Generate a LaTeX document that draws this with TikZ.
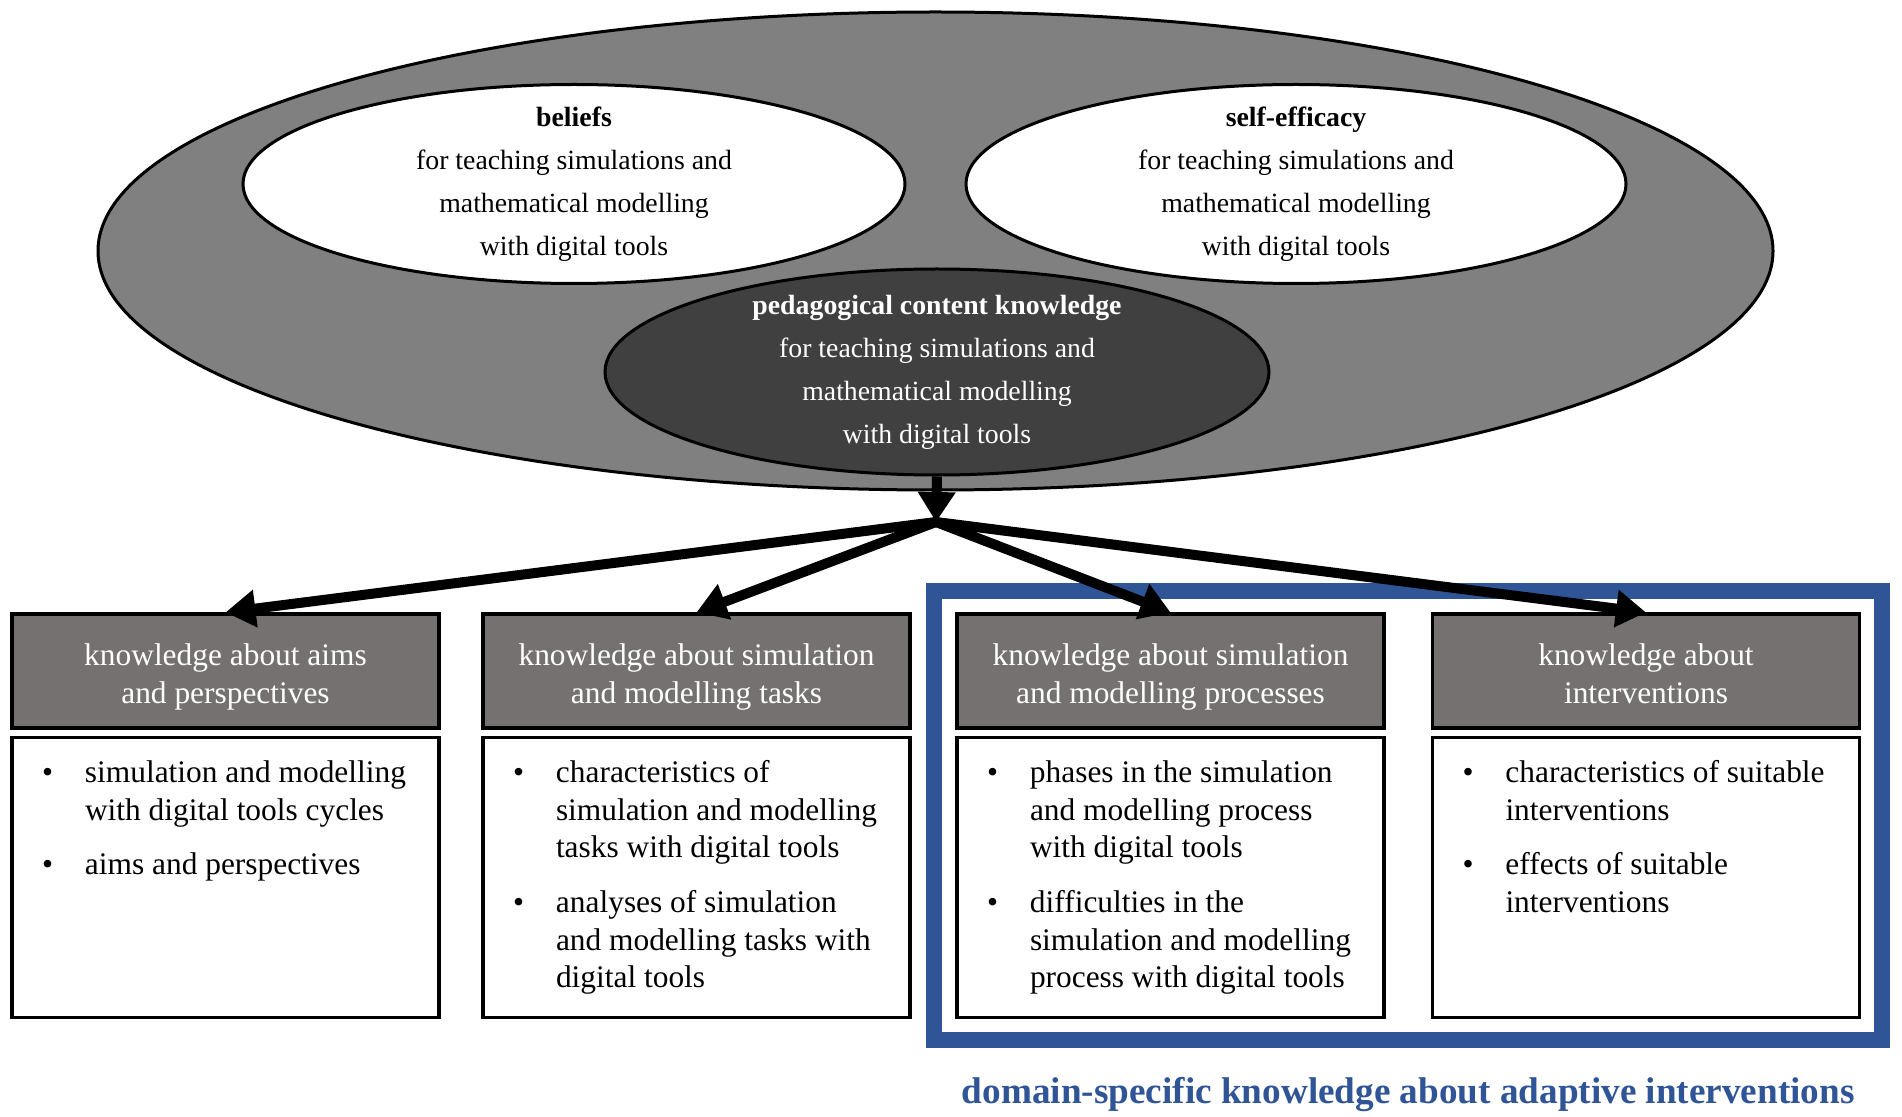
\documentclass[tikz,border=0pt]{standalone}
\usepackage{fontspec}
\setmainfont{Liberation Serif}
\usetikzlibrary{positioning,shapes.geometric,arrows.meta,fit}

\definecolor{ringgray}{HTML}{808080}
\definecolor{pckgray}{HTML}{404040}
\definecolor{headgray}{HTML}{767171}
\definecolor{domainblue}{HTML}{2F5597}

% bullet points of the lower boxes
\newcommand{\kpoint}[1]{\par\noindent\hangindent=21.5pt\hangafter=1\makebox[21.5pt][l]{\strut\textbullet}#1}
\newcommand{\kgap}{\par\vspace{8.5pt}}
\newcommand{\kpoints}[1]{\parbox[t][140pt][t]{213.5pt}{\leftskip=15pt\rightskip=0pt plus 1fil
		\fontsize{15.7}{18.8}\selectfont\vspace*{9.6pt}#1\par}}
% header lines sit a little low
\newcommand{\khtop}{\rule{0pt}{19.2pt}}

\begin{document}
\begin{tikzpicture}[x=1pt,y=1pt,
		ringell/.style={ellipse,draw,line width=1.5pt,inner sep=0pt},
		inell/.style={ringell,fill=white,inner ysep=-6pt,align=center,font=\fontsize{13.9}{21.5}\selectfont},
		khead/.style={rectangle,draw,line width=1.6pt,fill=headgray,text=white,minimum width=213.5pt,
			minimum height=57pt,inner sep=0pt,align=center,font=\fontsize{15.7}{18.8}\selectfont},
		kbody/.style={rectangle,draw,line width=1.6pt,fill=white,inner sep=0pt},
		karrow/.style={line width=5pt,-{Triangle[length=15pt,width=18pt]}}]
	\useasboundingbox (0,0) rectangle (951,-558.5);

	% Dispositions
	\node[ringell,fill=ringgray,minimum width=837.5pt,minimum height=239pt] (dispo) at (467.75,-125.5) {};
	\node[inell,minimum width=331pt,minimum height=99.5pt] (beliefs) at (287,-92)
		{\textbf{beliefs}\\for teaching simulations and\\mathematical modelling\\with digital tools};
	\node[inell,minimum width=330pt,minimum height=99.5pt] (selfeff) at (648,-92)
		{\textbf{self-efficacy}\\for teaching simulations and\\mathematical modelling\\with digital tools};
	\node[inell,fill=pckgray,text=white,minimum width=332pt,minimum height=103pt] (pck) at (468.5,-186)
		{\textbf{pedagogical content knowledge}\\for teaching simulations and\\mathematical modelling\\with digital tools};
	\coordinate (split) at (468,-261);

	% Knowledge facets
	\node[khead] (hdr1) at (112.75,-335.5) {\khtop knowledge about aims\\and perspectives\strut};
	\node[khead] (hdr2) at (348.25,-335.5) {\khtop knowledge about simulation\\and modelling tasks\strut};
	\node[khead] (hdr3) at (585.25,-335.5) {\khtop knowledge about simulation\\and modelling processes\strut};
	\node[khead] (hdr4) at (823,-335.5) {\khtop knowledge about\\interventions\strut};

	\node[kbody,below=3pt of hdr1] (txt1) {\kpoints{%
		\kpoint{simulation and modelling\\with digital tools cycles}\kgap
		\kpoint{aims and perspectives}}};
	\node[kbody,below=3pt of hdr2] (txt2) {\kpoints{%
		\kpoint{characteristics of\\simulation and modelling\\tasks with digital tools}\kgap
		\kpoint{analyses of simulation\\and modelling tasks with\\digital tools}}};
	\node[kbody,below=3pt of hdr3] (txt3) {\kpoints{%
		\kpoint{phases in the simulation\\and modelling process\\with digital tools}\kgap
		\kpoint{difficulties in the\\simulation and modelling\\process with digital tools}}};
	\node[kbody,below=3pt of hdr4] (txt4) {\kpoints{%
		\kpoint{characteristics of suitable\\interventions}\kgap
		\kpoint{effects of suitable\\interventions}}};

	% Adaptive interventions
	\node[draw=domainblue,line width=8pt,fit=(hdr3)(txt4),inner sep=10.5pt] (frame) {};
	\node[below=14.5pt of frame,inner sep=0pt,text=domainblue,font=\bfseries\fontsize{18.6}{22}\selectfont] (domain)
		{domain-specific knowledge about adaptive interventions};

	\draw[karrow] (pck.south) -- (split);
	\foreach \i in {1,...,4}
		\draw[karrow] (split) -- (hdr\i.north);
\end{tikzpicture}
\end{document}
